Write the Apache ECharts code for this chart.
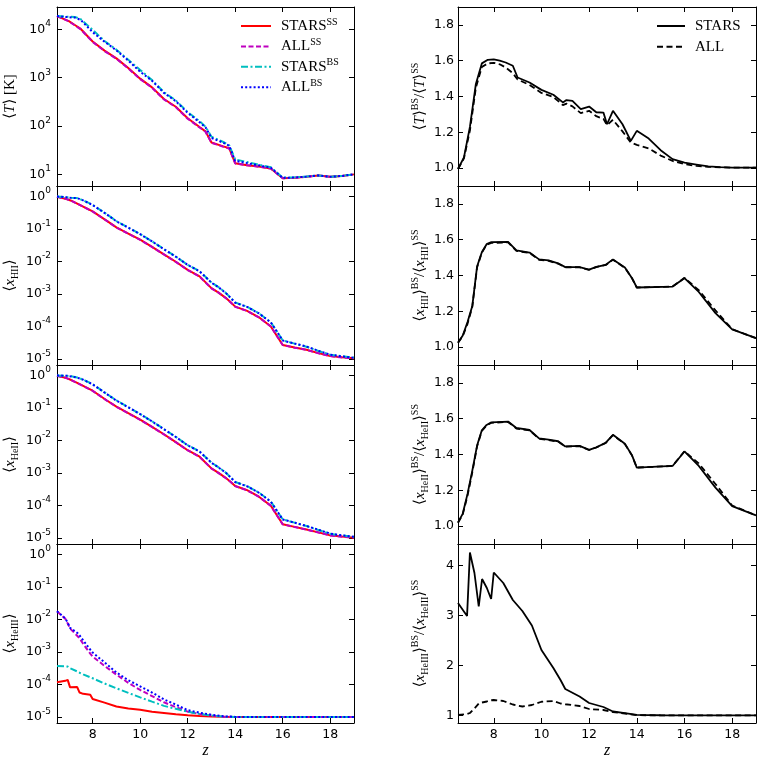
<!DOCTYPE html>
<html>
<head>
<meta charset="utf-8">
<script src="https://cdn.jsdelivr.net/npm/echarts@6/dist/echarts.min.js"></script>
<style>
html, body { margin: 0; padding: 0; background: #fff; }
#chart { width: 764px; height: 762px; }
</style>
</head>
<body>
<div id="chart"></div>
<script>
// ---- tick values ----
var zTicks = [8, 10, 12, 14, 16, 18];
var logTicksT = [10, 100, 1000, 10000];
var logTicksX = [1e-5, 1e-4, 1e-3, 1e-2, 1e-1, 1];
var ratioTicks = [1.0, 1.2, 1.4, 1.6, 1.8];
var ratioTicksHe3 = [1, 2, 3, 4];

// ---- <T> [K] ----
var zT = [6.5, 7.0, 7.25, 7.5, 8.0, 8.5, 9.0, 9.5, 10.0, 10.5, 11.0, 11.5, 12.0, 12.5, 12.75, 13.0, 13.5, 13.75, 14.0, 14.5, 15.0, 15.5, 16.0, 16.5, 17.0, 17.5, 18.0, 18.5, 19.0];
var T_starsSS = [18800, 14800, 12300, 10200, 5620, 3630, 2510, 1580, 955, 631, 363, 251, 145, 95.5, 77.6, 45.7, 38.0, 34.7, 17.0, 15.5, 14.5, 13.3, 8.3, 8.5, 8.9, 9.5, 8.9, 9.3, 10.0];
var T_allSS = [18800, 14600, 12100, 10000, 5500, 3550, 2460, 1550, 935, 620, 356, 246, 142, 93.5, 76.0, 45.0, 37.4, 34.2, 16.8, 15.4, 14.4, 13.2, 8.3, 8.5, 8.9, 9.5, 8.9, 9.3, 10.0];
var T_starsBS = [18800, 18200, 18100, 16200, 9770, 5750, 3800, 2340, 1450, 891, 501, 339, 195, 126, 96.6, 60.3, 46.8, 39.8, 20.4, 18.0, 15.8, 14.0, 8.6, 8.7, 9.0, 9.5, 8.9, 9.3, 10.0];
var T_allBS = [18800, 17800, 17500, 15650, 8720, 5560, 3680, 2260, 1330, 866, 484, 327, 187, 120, 94.0, 57.0, 45.0, 39.0, 19.0, 17.1, 15.4, 13.7, 8.5, 8.6, 9.0, 9.5, 8.9, 9.3, 10.0];

// ---- <x_HII>, <x_HeII> ----
var zX = [6.5, 6.9, 7.1, 7.35, 7.6, 8.0, 8.6, 9.0, 9.5, 10.0, 10.5, 11.0, 11.5, 12.0, 12.5, 13.0, 13.3, 13.6, 13.8, 14.0, 14.5, 15.0, 15.5, 16.0, 16.5, 17.0, 17.5, 18.0, 18.5, 19.0];
var HII_starsSS = [0.977, 0.832, 0.741, 0.603, 0.490, 0.347, 0.178, 0.112, 0.0724, 0.0468, 0.0282, 0.0166, 0.00977, 0.0055, 0.00347, 0.00151, 0.0011, 7.59e-4, 5.62e-4, 4.07e-4, 3.02e-4, 1.91e-4, 1.0e-4, 2.69e-5, 2.24e-5, 1.91e-5, 1.51e-5, 1.23e-5, 1.12e-5, 1.05e-5];
var HII_allSS = [0.977, 0.83, 0.738, 0.6, 0.487, 0.344, 0.176, 0.111, 0.0716, 0.0463, 0.0279, 0.0164, 0.00966, 0.00544, 0.00343, 0.00149, 0.00109, 7.5e-4, 5.56e-4, 4.03e-4, 2.99e-4, 1.89e-4, 9.9e-5, 2.67e-5, 2.22e-5, 1.89e-5, 1.5e-5, 1.22e-5, 1.11e-5, 1.04e-5];
var HII_starsBS = [1.0, 0.948, 0.912, 0.891, 0.764, 0.55, 0.282, 0.174, 0.111, 0.0697, 0.0417, 0.024, 0.0141, 0.00787, 0.00501, 0.00225, 0.00162, 0.00108, 7.76e-4, 5.43e-4, 4.03e-4, 2.55e-4, 1.34e-4, 3.72e-5, 2.96e-5, 2.38e-5, 1.76e-5, 1.35e-5, 1.21e-5, 1.1e-5];
var HII_allBS = [1.0, 0.945, 0.905, 0.886, 0.758, 0.545, 0.279, 0.172, 0.11, 0.069, 0.0413, 0.0238, 0.014, 0.0078, 0.00497, 0.00222, 0.0016, 0.00107, 7.68e-4, 5.37e-4, 3.99e-4, 2.52e-4, 1.33e-4, 3.69e-5, 2.97e-5, 2.41e-5, 1.78e-5, 1.35e-5, 1.2e-5, 1.09e-5];
var HeII_starsSS = [0.977, 0.832, 0.724, 0.589, 0.479, 0.339, 0.170, 0.110, 0.0692, 0.0437, 0.0263, 0.0155, 0.00891, 0.00501, 0.00316, 0.00138, 0.001, 7.08e-4, 5.37e-4, 3.98e-4, 2.95e-4, 1.86e-4, 9.77e-5, 2.63e-5, 2.19e-5, 1.82e-5, 1.48e-5, 1.2e-5, 1.1e-5, 1.02e-5];
var HeII_allSS = [0.977, 0.83, 0.72, 0.585, 0.475, 0.336, 0.168, 0.109, 0.0685, 0.0433, 0.026, 0.0153, 0.00882, 0.00496, 0.00313, 0.00137, 9.9e-4, 7.0e-4, 5.32e-4, 3.94e-4, 2.92e-4, 1.84e-4, 9.7e-5, 2.61e-5, 2.17e-5, 1.8e-5, 1.47e-5, 1.19e-5, 1.09e-5, 1.02e-5];
var HeII_starsBS = [0.995, 0.986, 0.942, 0.865, 0.745, 0.537, 0.269, 0.170, 0.106, 0.0649, 0.0389, 0.0224, 0.0129, 0.00714, 0.0046, 0.00208, 0.00149, 0.00103, 7.46e-4, 5.28e-4, 3.93e-4, 2.48e-4, 1.31e-4, 3.72e-5, 2.96e-5, 2.32e-5, 1.76e-5, 1.34e-5, 1.19e-5, 1.08e-5];
var HeII_allBS = [0.995, 0.983, 0.936, 0.858, 0.739, 0.532, 0.266, 0.168, 0.105, 0.0643, 0.0385, 0.0221, 0.0128, 0.00706, 0.00455, 0.00206, 0.00147, 0.00102, 7.38e-4, 5.23e-4, 3.88e-4, 2.45e-4, 1.30e-4, 3.70e-5, 2.94e-5, 2.33e-5, 1.79e-5, 1.36e-5, 1.19e-5, 1.08e-5];

// ---- <x_HeIII> ----
var zHe3 = [6.5, 6.85, 6.95, 7.05, 7.35, 7.45, 7.6, 7.9, 8.0, 8.5, 9.0, 9.5, 10.0, 10.5, 11.0, 11.5, 12.0, 12.5, 13.0, 13.5, 14.0, 15.0, 16.0, 17.0, 18.0, 19.0];
var HeIII_starsSS = [1.17e-4, 1.29e-4, 1.38e-4, 8.13e-5, 8.32e-5, 5.62e-5, 5.13e-5, 4.79e-5, 3.55e-5, 2.75e-5, 2.09e-5, 1.82e-5, 1.66e-5, 1.45e-5, 1.32e-5, 1.2e-5, 1.12e-5, 1.07e-5, 1.035e-5, 1.01e-5, 1e-5, 1e-5, 1e-5, 1e-5, 1e-5, 1e-5];
var HeIII_allSS = [1.78e-2, 1.05e-2, 7.59e-3, 5.25e-3, 3.16e-3, 2.63e-3, 1.78e-3, 8.91e-4, 7.24e-4, 3.72e-4, 2.0e-4, 1.12e-4, 6.76e-5, 4.37e-5, 2.82e-5, 2.0e-5, 1.45e-5, 1.23e-5, 1.1e-5, 1.02e-5, 1e-5, 1e-5, 1e-5, 1e-5, 1e-5, 1e-5];
var HeIII_starsBS = [3.72e-4, 3.63e-4, 3.55e-4, 3.16e-4, 2.51e-4, 2.29e-4, 2.04e-4, 1.66e-4, 1.55e-4, 1.07e-4, 7.59e-5, 5.5e-5, 3.98e-5, 2.95e-5, 2.19e-5, 1.78e-5, 1.45e-5, 1.23e-5, 1.1e-5, 1.02e-5, 1e-5, 1e-5, 1e-5, 1e-5, 1e-5, 1e-5];
var HeIII_allBS = [1.8e-2, 1.07e-2, 7.94e-3, 5.5e-3, 3.89e-3, 3.24e-3, 2.29e-3, 1.17e-3, 9.55e-4, 4.79e-4, 2.34e-4, 1.35e-4, 8.71e-5, 5.62e-5, 3.47e-5, 2.4e-5, 1.62e-5, 1.35e-5, 1.17e-5, 1.05e-5, 1e-5, 1e-5, 1e-5, 1e-5, 1e-5, 1e-5];

// ---- ratios BS / SS ----
var zR1 = [6.5, 6.75, 7.0, 7.25, 7.5, 7.75, 8.0, 8.25, 8.5, 8.8, 9.0, 9.5, 10.0, 10.5, 10.9, 11.05, 11.3, 11.65, 12.0, 12.3, 12.6, 12.75, 13.0, 13.4, 13.75, 14.0, 14.5, 15.0, 15.5, 16.0, 16.5, 17.0, 17.5, 18.0, 18.5, 19.0];
var rT_stars = [0.995, 1.06, 1.23, 1.47, 1.585, 1.605, 1.607, 1.60, 1.59, 1.572, 1.506, 1.478, 1.437, 1.41, 1.367, 1.38, 1.375, 1.33, 1.344, 1.312, 1.31, 1.245, 1.32, 1.245, 1.152, 1.208, 1.165, 1.10, 1.05, 1.03, 1.02, 1.01, 1.005, 1.003, 1.003, 1.003];
var rT_all = [0.995, 1.055, 1.21, 1.45, 1.565, 1.585, 1.588, 1.58, 1.562, 1.53, 1.495, 1.465, 1.42, 1.397, 1.352, 1.36, 1.345, 1.307, 1.32, 1.29, 1.275, 1.24, 1.27, 1.205, 1.143, 1.13, 1.11, 1.07, 1.04, 1.022, 1.012, 1.007, 1.004, 1.003, 1.003, 1.003];

var zR2 = [6.5, 6.7, 6.9, 7.1, 7.3, 7.5, 7.7, 7.9, 8.6, 8.95, 9.5, 9.9, 10.3, 10.7, 11.0, 11.6, 12.0, 12.3, 12.7, 13.0, 13.5, 13.8, 14.0, 15.5, 16.0, 16.6, 17.3, 18.0, 19.0];
var rHII_stars = [1.024, 1.065, 1.14, 1.23, 1.45, 1.53, 1.575, 1.586, 1.588, 1.54, 1.528, 1.49, 1.484, 1.468, 1.447, 1.447, 1.433, 1.448, 1.46, 1.49, 1.445, 1.385, 1.333, 1.338, 1.385, 1.308, 1.19, 1.099, 1.05];
var rHII_all = [1.024, 1.062, 1.13, 1.225, 1.445, 1.528, 1.572, 1.582, 1.585, 1.537, 1.526, 1.488, 1.482, 1.466, 1.446, 1.446, 1.432, 1.447, 1.459, 1.488, 1.443, 1.384, 1.333, 1.338, 1.387, 1.318, 1.205, 1.1, 1.05];
var rHeII_stars = [1.019, 1.07, 1.18, 1.31, 1.45, 1.535, 1.565, 1.58, 1.584, 1.548, 1.537, 1.49, 1.483, 1.474, 1.445, 1.448, 1.426, 1.44, 1.466, 1.51, 1.46, 1.395, 1.327, 1.336, 1.417, 1.336, 1.215, 1.112, 1.06];
var rHeII_all = [1.019, 1.066, 1.17, 1.3, 1.445, 1.532, 1.562, 1.577, 1.582, 1.545, 1.535, 1.488, 1.481, 1.472, 1.444, 1.447, 1.425, 1.439, 1.465, 1.508, 1.458, 1.394, 1.327, 1.336, 1.418, 1.35, 1.235, 1.115, 1.06];

var zR4 = [6.5, 6.88, 7.0, 7.19, 7.37, 7.51, 7.71, 7.89, 8.0, 8.4, 8.8, 9.2, 9.6, 10.0, 10.5, 10.8, 11.0, 11.6, 12.0, 12.6, 13.0, 13.5, 14.0, 15.0, 16.0, 17.0, 18.0, 19.0];
var rHeIII_stars = [3.25, 2.99, 4.26, 3.85, 3.18, 3.73, 3.55, 3.33, 3.86, 3.65, 3.31, 3.09, 2.80, 2.31, 1.95, 1.71, 1.53, 1.38, 1.25, 1.17, 1.08, 1.047, 1.013, 1.005, 1.003, 1.002, 1.002, 1.002];
var rHeIII_all = [1.013, 1.03, 1.05, 1.14, 1.24, 1.26, 1.28, 1.305, 1.31, 1.29, 1.22, 1.18, 1.21, 1.275, 1.29, 1.24, 1.225, 1.19, 1.13, 1.11, 1.07, 1.04, 1.007, 1.003, 1.002, 1.002, 1.002, 1.002];

var SANS = 'DejaVu Sans';
var SERIF = 'Liberation Serif, DejaVu Serif, serif';

// line styles, matplotlib-ish
var sStarsSS = { color: '#ff0000', type: 'solid', width: 2 };
var sAllSS = { color: '#bf00bf', type: [5, 2.5], width: 2 };
var sStarsBS = { color: '#00bfbf', type: [7, 2.5, 2, 2.5], width: 2 };
var sAllBS = { color: '#0000ff', type: [2, 2.2], width: 2 };
var sStars = { color: '#000000', type: 'solid', width: 1.8 };
var sAll = { color: '#000000', type: [6, 3.5], width: 1.8 };

function pairs(zs, vs) {
    return zs.map(function (z, i) { return [z, vs[i]]; });
}
function nx(sp) { return '{a|⟨}{i|x}{sub|' + sp + '}{a|⟩}'; }

var panels = [
    { col: 0, row: 0, type: 'log', min: 5.75, max: 29000, ticks: logTicksT,
      name: '{a|⟨}{i|T}{a|⟩ [K]}',
      lines: [['STARS^SS', zT, T_starsSS, sStarsSS], ['ALL^SS', zT, T_allSS, sAllSS],
              ['STARS^BS', zT, T_starsBS, sStarsBS], ['ALL^BS', zT, T_allBS, sAllBS]] },
    { col: 0, row: 1, type: 'log', min: 6.5e-6, max: 2.1, ticks: logTicksX, name: nx('HII'),
      lines: [['STARS^SS', zX, HII_starsSS, sStarsSS], ['ALL^SS', zX, HII_allSS, sAllSS],
              ['STARS^BS', zX, HII_starsBS, sStarsBS], ['ALL^BS', zX, HII_allBS, sAllBS]] },
    { col: 0, row: 2, type: 'log', min: 6.5e-6, max: 2.1, ticks: logTicksX, name: nx('HeII'),
      lines: [['STARS^SS', zX, HeII_starsSS, sStarsSS], ['ALL^SS', zX, HeII_allSS, sAllSS],
              ['STARS^BS', zX, HeII_starsBS, sStarsBS], ['ALL^BS', zX, HeII_allBS, sAllBS]] },
    { col: 0, row: 3, type: 'log', min: 6.5e-6, max: 2.1, ticks: logTicksX, name: nx('HeIII'),
      lines: [['STARS^SS', zHe3, HeIII_starsSS, sStarsSS], ['ALL^SS', zHe3, HeIII_allSS, sAllSS],
              ['STARS^BS', zHe3, HeIII_starsBS, sStarsBS], ['ALL^BS', zHe3, HeIII_allBS, sAllBS]] },
    { col: 1, row: 0, type: 'value', min: 0.9, max: 1.9, ticks: ratioTicks,
      name: '{a|⟨}{i|T}{a|⟩}{sup|BS}{a|/⟨}{i|T}{a|⟩}{sup|SS}',
      lines: [['STARS', zR1, rT_stars, sStars], ['ALL', zR1, rT_all, sAll]] },
    { col: 1, row: 1, type: 'value', min: 0.9, max: 1.9, ticks: ratioTicks,
      name: nx('HII') + '{sup|BS}{a|/}' + nx('HII') + '{sup|SS}',
      lines: [['STARS', zR2, rHII_stars, sStars], ['ALL', zR2, rHII_all, sAll]] },
    { col: 1, row: 2, type: 'value', min: 0.9, max: 1.9, ticks: ratioTicks,
      name: nx('HeII') + '{sup|BS}{a|/}' + nx('HeII') + '{sup|SS}',
      lines: [['STARS', zR2, rHeII_stars, sStars], ['ALL', zR2, rHeII_all, sAll]] },
    { col: 1, row: 3, type: 'value', min: 0.85, max: 4.43, ticks: ratioTicksHe3,
      name: nx('HeIII') + '{sup|BS}{a|/}' + nx('HeIII') + '{sup|SS}',
      lines: [['STARS', zR4, rHeIII_stars, sStars], ['ALL', zR4, rHeIII_all, sAll]] }
];

var tops = [7, 186, 365, 544];
var axLine = { show: true, onZero: false, lineStyle: { color: '#000', width: 1 } };
var nameRich = {
    a: { fontFamily: SERIF, fontSize: 15, lineHeight: 20, color: '#000' },
    i: { fontFamily: SERIF, fontSize: 15, fontStyle: 'italic', lineHeight: 20, color: '#000' },
    sub: { fontFamily: SERIF, fontSize: 10, lineHeight: 10, verticalAlign: 'bottom', color: '#000' },
    sup: { fontFamily: SERIF, fontSize: 10, lineHeight: 10, verticalAlign: 'top', color: '#000' }
};
var tickRich = {
    b: { fontFamily: SANS, fontSize: 12.5, lineHeight: 20, color: '#000' },
    s: { fontFamily: SANS, fontSize: 9, lineHeight: 10, verticalAlign: 'top', color: '#000' }
};

function ticks(vals) {
    return { show: true, inside: true, length: 5, customValues: vals, lineStyle: { color: '#000', width: 1 } };
}

var grids = [], xAxes = [], yAxes = [], series = [];
panels.forEach(function (p, g) {
    grids.push({ left: p.col ? 458 : 57, top: tops[p.row], width: p.col ? 298 : 297, height: 179,
                 outerBoundsMode: 'none', containLabel: false });
    var bottom = p.row === 3;
    xAxes.push({
        gridIndex: g, type: 'value', min: 6.5, max: 19, position: 'bottom',
        axisLine: axLine, axisTick: ticks(zTicks), splitLine: { show: false },
        axisLabel: { show: bottom, customValues: zTicks, margin: 5, fontFamily: SANS, fontSize: 12.5, color: '#000' },
        name: bottom ? 'z' : '', nameLocation: 'middle', nameGap: 20,
        nameTextStyle: { fontFamily: SERIF, fontStyle: 'italic', fontSize: 16, color: '#000' }
    });
    xAxes.push({
        gridIndex: g, type: 'value', min: 6.5, max: 19, position: 'top',
        axisLine: axLine, axisTick: ticks(zTicks), axisLabel: { show: false }, splitLine: { show: false }
    });
    var fmt;
    if (p.type === 'log') {
        fmt = function (v) { return '{b|10}{s|' + Math.round(Math.log10(v)) + '}'; };
    } else if (p.row === 3) {
        fmt = function (v) { return '{b|' + Math.round(v) + '}'; };
    } else {
        fmt = function (v) { return '{b|' + v.toFixed(1) + '}'; };
    }
    var y = {
        gridIndex: g, type: p.type, min: p.min, max: p.max, position: 'left',
        axisLine: axLine, axisTick: ticks(p.ticks), splitLine: { show: false },
        axisLabel: { show: true, customValues: p.ticks, formatter: fmt, rich: tickRich,
                     margin: p.col ? 4 : 6 },
        name: p.name, nameLocation: 'middle', nameRotate: 90, nameGap: p.col ? 28 : 37,
        nameTextStyle: { rich: nameRich }
    };
    if (p.type === 'log') y.logBase = 10;
    yAxes.push(y);
    yAxes.push({
        gridIndex: g, type: p.type, min: p.min, max: p.max, position: 'right',
        logBase: 10, axisLine: axLine, axisTick: ticks(p.ticks),
        axisLabel: { show: false }, splitLine: { show: false }
    });
    p.lines.forEach(function (l) {
        series.push({
            type: 'line', name: l[0], xAxisIndex: 2 * g, yAxisIndex: 2 * g,
            data: pairs(l[1], l[2]), symbol: 'none', smooth: false, silent: true,
            lineStyle: l[3], itemStyle: { color: l[3].color }
        });
    });
});

function legendFmt(n) {
    var s = n.split('^');
    return s.length > 1 ? s[0] + '{sup|' + s[1] + '}' : n;
}
var legendText = {
    fontFamily: SERIF, fontSize: 15, color: '#000', lineHeight: 18, padding: [0, 0, 0, 5],
    rich: { sup: { fontFamily: SERIF, fontSize: 10, lineHeight: 9, verticalAlign: 'top', color: '#000' } }
};
// only the line sample in the legend, no marker
var legendItemStyle = { opacity: 0, borderWidth: 0 };

var myChart = echarts.init(document.getElementById('chart'));
var option = {
    animation: false,
    backgroundColor: '#fff',
    grid: grids,
    xAxis: xAxes,
    yAxis: yAxes,
    legend: [
        { data: ['STARS^SS', 'ALL^SS', 'STARS^BS', 'ALL^BS'], orient: 'vertical', left: 240, top: 17,
          padding: 0, itemWidth: 30, itemHeight: 14, itemGap: 2.4, selectedMode: false,
          itemStyle: legendItemStyle, formatter: legendFmt, textStyle: legendText },
        { data: ['STARS', 'ALL'], orient: 'vertical', left: 656, top: 17,
          padding: 0, itemWidth: 28, itemHeight: 14, itemGap: 2.7, selectedMode: false,
          itemStyle: legendItemStyle, formatter: legendFmt, textStyle: legendText }
    ],
    series: series
};
myChart.setOption(option);
</script>
</body>
</html>
